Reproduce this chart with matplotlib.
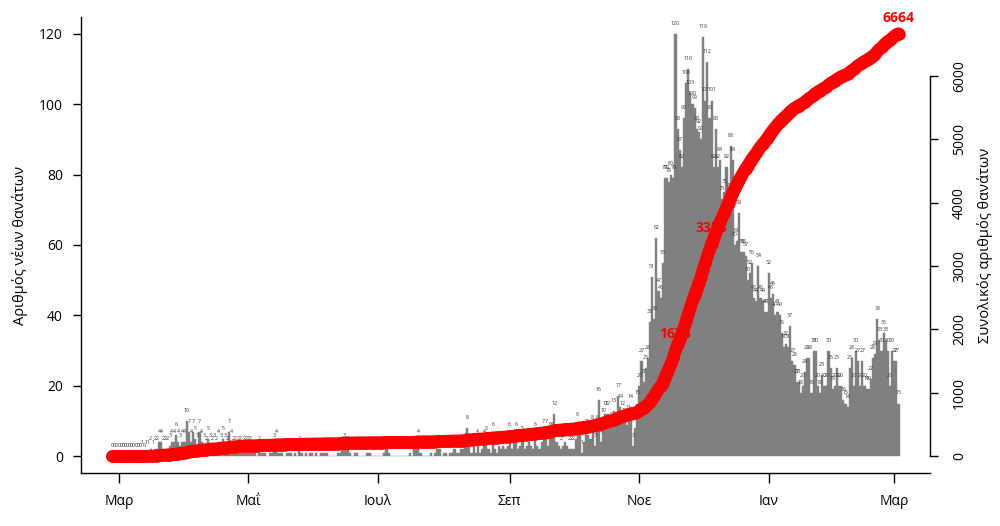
import numpy as np
import pandas as pd
import matplotlib
matplotlib.use("Agg")
import matplotlib.pyplot as plt

plt.rcParams['font.family'] = ['Open Sans', 'DejaVu Sans']

# daily new deaths (27 Feb 2020 - 3 Mar 2021)
feb_2020 = [0, 0, 0]
mar_2020 = [0, 0, 0, 0, 0, 0, 0, 0, 0, 0, 0,
            1, 0, 1, 1, 2, 1, 2, 2, 4, 4, 2, 2, 2, 3, 4, 4, 6, 4, 3, 4]
apr_2020 = [4, 10, 7, 4, 7, 5, 3, 7, 4, 3, 2, 5, 3, 2, 3,
            2, 4, 3, 5, 3, 2, 7, 4, 2, 2, 2, 2, 1, 2, 2]
may_2020 = [2, 2, 1, 1, 0, 2, 1, 1, 1, 0, 1, 1, 3, 4, 1, 1,
            1, 0, 1, 1, 1, 0, 1, 0, 2, 1, 0, 1, 0, 1, 1]
jun_2020 = [0, 1, 0, 1, 1, 1, 1, 0, 0, 0, 0, 1, 1, 2, 3,
            2, 2, 1, 0, 1, 1, 0, 0, 0, 0, 1, 1, 0, 0, 0]
jul_2020 = [0, 0, 0, 1, 2, 1, 0, 0, 0, 0, 0, 0, 0, 0, 0, 1,
            0, 2, 2, 4, 1, 0, 0, 0, 0, 1, 0, 1, 2, 2, 0]
aug_2020 = [1, 1, 0, 1, 1, 2, 1, 1, 2, 2, 3, 8, 3, 1, 3, 1,
            4, 1, 2, 4, 5, 2, 1, 6, 2, 1, 3, 2, 3, 2, 3]
sep_2020 = [6, 2, 4, 6, 2, 3, 5, 2, 3, 4, 3, 2, 6, 3, 2,
            4, 7, 7, 3, 6, 6, 12, 4, 3, 2, 3, 4, 3, 2, 2]
oct_2020 = [2, 5, 9, 6, 1, 4, 7, 6, 5, 8, 3, 8, 16, 4, 10, 12,
            12, 8, 9, 13, 9, 17, 14, 12, 10, 9, 11, 14, 3, 8, 15]
nov_2020 = [20, 27, 21, 25, 28, 38, 51, 39, 62, 47, 45, 55, 79, 79, 78,
            80, 79, 120, 93, 87, 82, 96, 106, 110, 103, 100, 99, 93, 92, 90]
dec_2020 = [119, 101, 112, 96, 101, 82, 93, 82, 84, 73, 75, 82, 74, 88, 84, 60,
            61, 69, 58, 58, 57, 50, 52, 55, 45, 44, 54, 45, 44, 41, 41]
jan_2021 = [52, 45, 46, 40, 41, 40, 35, 31, 32, 31, 37, 27, 26, 21, 21, 18,
            20, 24, 28, 28, 18, 30, 30, 20, 18, 23, 20, 20, 30, 25, 19]
feb_2021 = [20, 25, 20, 20, 16, 15, 14, 25, 28, 20, 30, 27, 20, 27,
            20, 19, 19, 22, 28, 29, 39, 33, 30, 35, 33, 30, 20, 30]
mar_2021 = [27, 27, 15]

month_labels = ['Μαρ', 'Μα\u0390', 'Ιουλ', 'Σεπ', 'Νοε', 'Ιαν', 'Μαρ']
month_ticks = pd.to_datetime(['2020-03-01', '2020-05-01', '2020-07-01', '2020-09-01',
                              '2020-11-01', '2021-01-01', '2021-03-01'])

daily = np.array(feb_2020 + mar_2020 + apr_2020 + may_2020 + jun_2020 + jul_2020
                 + aug_2020 + sep_2020 + oct_2020 + nov_2020 + dec_2020
                 + jan_2021 + feb_2021 + mar_2021)
dates = pd.date_range('2020-02-27', periods=len(daily), freq='D')
cum = np.cumsum(daily)
total = cum[-1]

fig = plt.figure(figsize=(10, 5.26), dpi=100)
ax = fig.add_axes([0.081, 0.1002, 0.849, 0.8681])

ax.bar(dates, daily, width=1.0, color='#808080', edgecolor='#808080',
       linewidth=0.3, zorder=2)
for d, v in zip(dates, daily):
    ax.text(d, v + 3, str(v), fontsize=3.8, ha='center', va='center',
            color='#333333', zorder=3)

span = (dates[-1] - dates[0]).days
pad = pd.Timedelta(days=0.04 * span)
ax.set_xlim(dates[0] - pad, dates[-1] + pad)
ax.set_ylim(-4.8, 124.8)
ax.set_yticks(range(0, 121, 20))
ax.set_xticks(month_ticks)
ax.set_xticklabels(month_labels)
ax.spines[['top', 'right']].set_visible(False)
for s in ['left', 'bottom']:
    ax.spines[s].set_linewidth(1.0)
ax.tick_params(axis='x', length=7, width=1.0, pad=8, labelsize=10)
ax.tick_params(axis='y', length=6, width=1.0, pad=7, labelsize=10)

ax2 = ax.twinx()
ax2.plot(dates, cum, color='red', lw=9, marker='o', ms=9, mew=0,
         solid_capstyle='round', solid_joinstyle='round', zorder=3)

# label the days when the running total passes 1/4, 1/2 and the end
i1 = int(np.argmax(cum >= total / 4))
i2 = int(np.argmax(cum >= total / 2))
for i in [i1, i2, len(cum) - 1]:
    ax2.annotate(str(cum[i]), (dates[i], cum[i]), xytext=(0, 11.5),
                 textcoords='offset points', ha='center', va='center',
                 color='red', fontsize=10, fontweight='bold', zorder=1)

ax2.set_ylim(-0.04 * total, 1.04 * total)
ax2.set_yticks(range(0, 6001, 1000))
ax2.spines[['top', 'left', 'bottom']].set_visible(False)
ax2.spines['right'].set_bounds(0, 6000)
ax2.spines['right'].set_linewidth(1.0)
ax2.tick_params(axis='y', length=6, width=1.0, pad=10, labelsize=10,
                labelrotation=90)
for lab in ax2.get_yticklabels():
    lab.set_va('center')

fig.text(0.020, 1 - 245 / 526, 'Αριθμός νέων θανάτων', rotation=90,
         ha='center', va='center', fontsize=10.5)
fig.text(0.985, 1 - 245 / 526, 'Συνολικός αριθμός θανάτων', rotation=90,
         ha='center', va='center', fontsize=10.5)

fig.savefig('out.png', dpi=100)
